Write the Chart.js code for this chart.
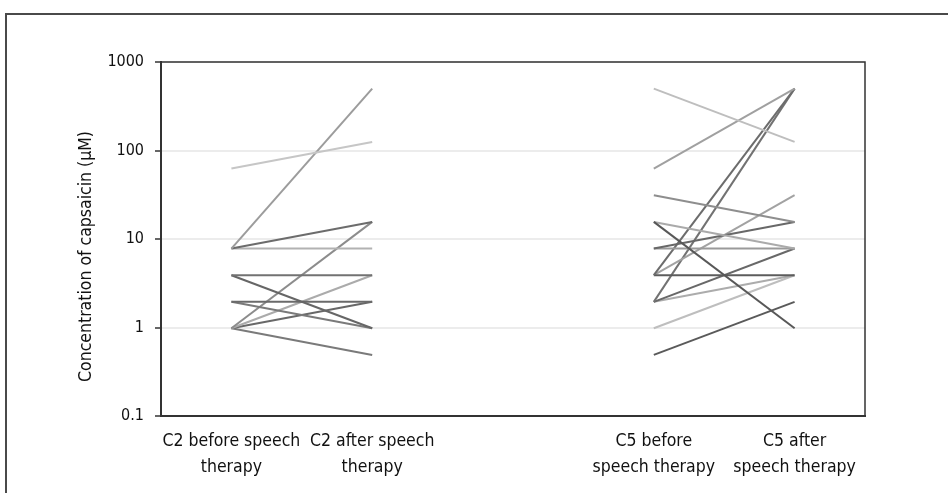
<!DOCTYPE html>
<html>
<head>
<meta charset="utf-8">
<script src="https://cdn.jsdelivr.net/npm/chart.js@4.4.1/dist/chart.umd.min.js"></script>
<style>
  html, body { margin: 0; padding: 0; background: #fff; overflow: hidden; }
  #wrap { position: relative; width: 948px; height: 493px; }
  #frame { position: absolute; left: 5px; top: 13px; width: 1200px; height: 800px;
           border-top: 2px solid #4a4a4a; border-left: 2px solid #4a4a4a; box-sizing: border-box; pointer-events: none; }
  canvas { position: absolute; left: 0; top: 0; }
</style>
</head>
<body>
<div id="wrap">
  <div id="frame"></div>
  <canvas id="c" width="948" height="493"></canvas>
</div>
<script>
// ---- data ----
const categories = [
  ["C2 before speech", "therapy"],
  ["C2 after speech", "therapy"],
  "",
  ["C5 before", "speech therapy"],
  ["C5 after", "speech therapy"]
];
const yTickValues = [0.1, 1, 10, 100, 1000];
const yTickLabels = ["0.1", "1", "10", "100", "1000"];
const yTitle = "Concentration of capsaicin (\u03BCM)";

const c2Before = [62.5, 7.8, 7.8, 7.8, 3.9, 3.9, 1.95, 1.95, 0.98, 0.98, 0.98, 0.98];
const c2After  = [125, 500, 15.6, 7.8, 3.9, 0.98, 1.95, 0.98, 15.6, 3.9, 1.95, 0.49];

const c5Before = [500, 62.5, 31.25, 15.6, 15.6, 7.8, 7.8, 3.9, 3.9, 3.9, 1.95, 1.95, 1.95, 0.98, 0.49];
const c5After  = [125, 500, 15.6, 0.98, 7.8, 15.6, 7.8, 500, 3.9, 31.25, 500, 7.8, 3.9, 3.9, 1.95];

// ---- styles ----
const c2Colors = ['#c6c6c6', '#9c9c9c', '#6c6c6c', '#b2b2b2', '#727272', '#666666',
                  '#6a6a6a', '#7a7a7a', '#8c8c8c', '#ababab', '#686868', '#7a7a7a'];
const c5Colors = ['#bebebe', '#a0a0a0', '#8e8e8e', '#585858', '#aaaaaa', '#686868',
                  '#9a9a9a', '#6c6c6c', '#5c5c5c', '#a2a2a2', '#727272', '#686868',
                  '#acacac', '#bebebe', '#5a5a5a'];

const datasets = [];
c2Before.forEach((v, i) => {
  datasets.push({ data: [v, c2After[i], null, null, null], borderColor: c2Colors[i] });
});
c5Before.forEach((v, i) => {
  datasets.push({ data: [null, null, null, v, c5After[i]], borderColor: c5Colors[i] });
});
datasets.forEach(d => { d.borderWidth = 2; d.pointRadius = 0; d.fill = false; d.spanGaps = false; });

Chart.defaults.font.family = "'Liberation Sans Narrow', 'DejaVu Sans Condensed', sans-serif";
Chart.defaults.color = '#111';

const framePlugin = {
  id: 'frame',
  afterDraw(chart) {
    const { ctx, chartArea: a } = chart;
    ctx.save();
    ctx.strokeStyle = '#333';
    ctx.lineWidth = 1.5;
    ctx.beginPath();
    ctx.moveTo(a.left, a.top);
    ctx.lineTo(a.right, a.top);
    ctx.lineTo(a.right, a.bottom);
    ctx.stroke();
    ctx.restore();
  }
};

new Chart(document.getElementById('c'), {
  type: 'line',
  data: { labels: categories, datasets },
  plugins: [framePlugin],
  options: {
    responsive: false,
    animation: false,
    devicePixelRatio: 1,
    layout: { padding: { left: 71, top: 62, right: 83, bottom: 0 } },
    plugins: { legend: { display: false }, tooltip: { enabled: false } },
    scales: {
      x: {
        type: 'category',
        offset: true,
        grid: { display: false, drawTicks: false },
        border: { display: true, color: '#333', width: 2 },
        ticks: { autoSkip: false, maxRotation: 0, minRotation: 0, padding: 13,
                 font: { size: 17.5, lineHeight: 1.45 }, color: '#111' },
        afterFit(scale) { scale.height = 77; }
      },
      y: {
        type: 'logarithmic',
        min: 0.1,
        max: 1000,
        afterBuildTicks(scale) { scale.ticks = yTickValues.map(v => ({ value: v })); },
        ticks: {
          callback: (v, i) => yTickLabels[i],
          font: { size: 16 }, color: '#111', padding: 11
        },
        grid: { color: '#ececec', lineWidth: 2, tickColor: '#333', tickLength: 6, tickWidth: 1.5 },
        border: { display: true, color: '#333', width: 2 },
        title: { display: true, text: yTitle + '\u00A0'.repeat(7),
                 font: { size: 17.5 }, color: '#111', padding: { top: 5, bottom: 4 } },
        afterFit(scale) { scale.width = 90; }
      }
    }
  }
});
</script>
</body>
</html>
